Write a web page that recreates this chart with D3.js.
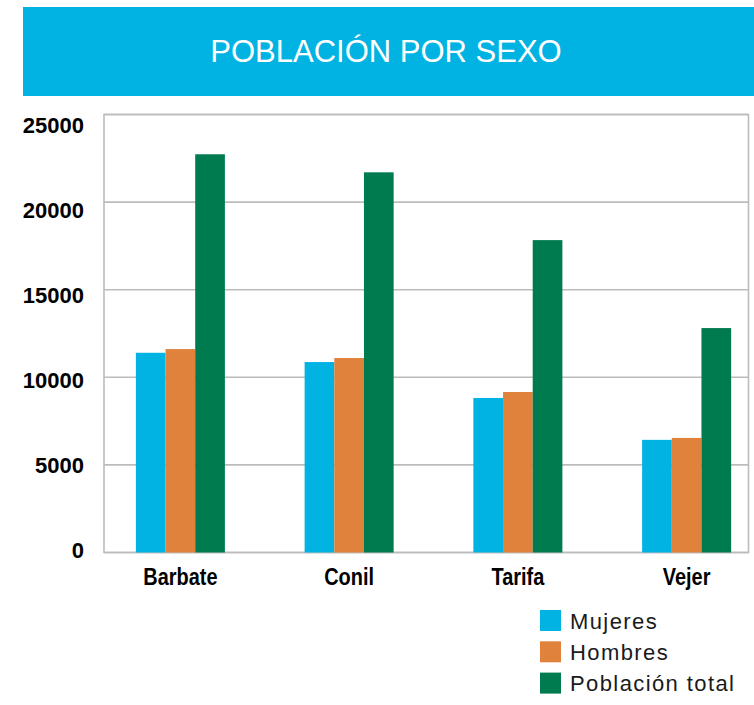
<!DOCTYPE html>
<html>
<head>
<meta charset="utf-8">
<script src="https://cdn.jsdelivr.net/npm/d3@7"></script>
<style>
  body { margin: 0; background: #fff; }
  svg { display: block; }
</style>
</head>
<body>
<div id="chart"></div>
<script>
// data
const municipios = ["Barbate", "Conil", "Tarifa", "Vejer"];
const series = ["Mujeres", "Hombres", "Población total"];
const mujeres = [11400, 10870, 8820, 6430];
const hombres = [11610, 11100, 9160, 6540];
const total = [22730, 21700, 17830, 12810];
const yTicks = [0, 5000, 10000, 15000, 20000, 25000];
const colors = ["#00b3e2", "#e0823c", "#007a4f"];

const width = 754;
const height = 705;
const plot = { left: 104, right: 748.5, top: 114.5, bottom: 552.5 };

const svg = d3.select("#chart")
    .append("svg")
    .attr("width", width)
    .attr("height", height);

// title banner
svg.append("rect")
    .attr("x", 23).attr("y", 7)
    .attr("width", width - 23).attr("height", 89)
    .attr("fill", "#00b3e2");

svg.append("text")
    .attr("x", 386).attr("y", 61.5)
    .attr("text-anchor", "middle")
    .attr("fill", "#fff")
    .style("font-family", "'Liberation Sans', Arial, sans-serif")
    .style("font-size", "31px")
    .text("POBLACIÓN POR SEXO");

// scales
const y = d3.scaleLinear().domain([0, 25000]).range([plot.bottom, plot.top]);
// tick labels sit on a slightly tighter spacing than the grid
const yLabel = d3.scaleLinear().domain([0, 25000]).range([557.5, 132.5]);

const x0 = d3.scaleBand()
    .domain(municipios)
    .range([96, 771])
    .paddingInner(0.4725)
    .paddingOuter(0.23625);

const x1 = d3.scaleBand()
    .domain(series)
    .range([0, x0.bandwidth()]);

// grid
svg.append("g")
    .selectAll("line")
    .data(yTicks)
    .join("line")
    .attr("x1", plot.left).attr("x2", plot.right)
    .attr("y1", d => y(d)).attr("y2", d => y(d))
    .attr("stroke", "#bcbcbc")
    .attr("stroke-width", 1.6);

svg.append("rect")
    .attr("x", plot.left).attr("y", plot.top)
    .attr("width", plot.right - plot.left)
    .attr("height", plot.bottom - plot.top)
    .attr("fill", "none")
    .attr("stroke", "#bcbcbc")
    .attr("stroke-width", 1.6);

// bars
const rows = municipios.map((m, i) => ({
    name: m,
    values: [mujeres[i], hombres[i], total[i]]
}));

svg.append("g")
    .selectAll("g")
    .data(rows)
    .join("g")
    .attr("transform", d => `translate(${x0(d.name)},0)`)
    .selectAll("rect")
    .data(d => d.values.map((v, j) => ({ key: series[j], value: v, idx: j })))
    .join("rect")
    .attr("x", d => x1(d.key))
    .attr("y", d => y(d.value))
    .attr("width", x1.bandwidth())
    .attr("height", d => y(0) - y(d.value))
    .attr("fill", d => colors[d.idx]);

// y axis labels
const yAxis = svg.append("g")
    .attr("transform", "translate(84,0)")
    .call(d3.axisLeft(yLabel).tickValues(yTicks).tickSize(0).tickPadding(0).tickFormat(d3.format("d")));
yAxis.select(".domain").remove();
yAxis.selectAll("text")
    .attr("dy", 0)
    .attr("fill", "#000")
    .style("font-family", "'Liberation Sans', Arial, sans-serif")
    .style("font-weight", "bold")
    .style("font-size", "22px");

// x axis labels (no narrow font installed, so squeeze horizontally)
svg.append("g")
    .selectAll("text")
    .data(municipios)
    .join("text")
    .attr("transform", d => `translate(${x0(d) + x0.bandwidth() / 2},585) scale(0.83,1)`)
    .attr("text-anchor", "middle")
    .attr("fill", "#000")
    .style("font-family", "'Liberation Sans', Arial, sans-serif")
    .style("font-weight", "bold")
    .style("font-size", "24px")
    .text(d => d);

// legend
const legend = svg.append("g")
    .selectAll("g")
    .data(series)
    .join("g")
    .attr("transform", (d, i) => `translate(540,${610 + i * 31.3})`);

legend.append("rect")
    .attr("width", 21).attr("height", 21)
    .attr("fill", (d, i) => colors[i]);

legend.append("text")
    .attr("x", 30).attr("y", 18.5)
    .attr("fill", "#1a1a1a")
    .style("font-family", "'Liberation Sans', Arial, sans-serif")
    .style("font-size", "22px")
    .style("letter-spacing", "1.4px")
    .text(d => d);
</script>
</body>
</html>
